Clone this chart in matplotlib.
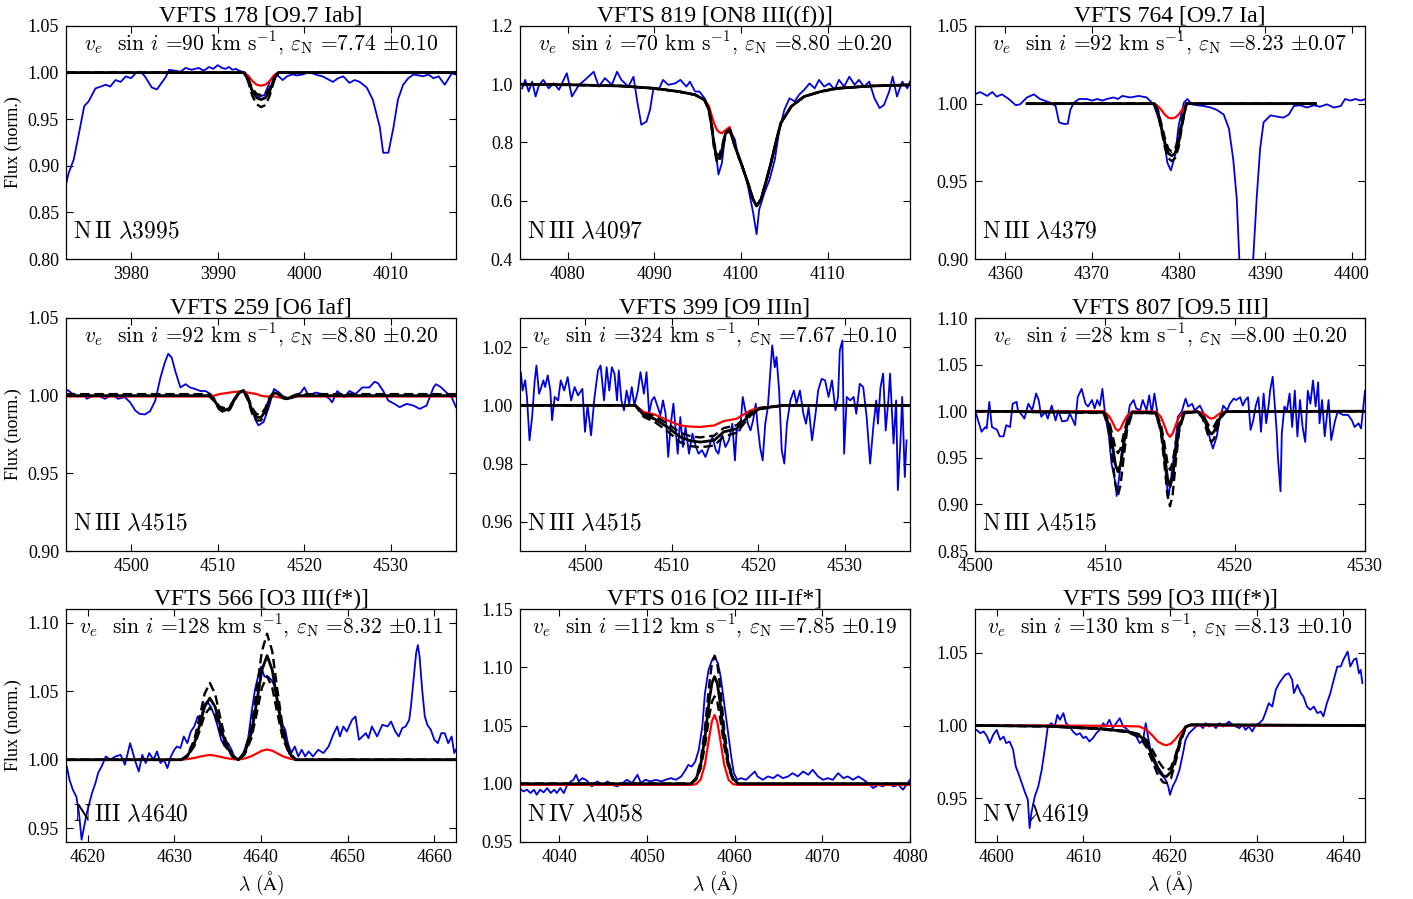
import matplotlib
matplotlib.use("Agg")
import matplotlib.pyplot as plt
from matplotlib.ticker import MultipleLocator

plt.rcParams["font.family"] = "serif"
plt.rcParams["font.serif"] = ["Liberation Serif", "DejaVu Serif"]
plt.rcParams["mathtext.fontset"] = "cm"

# ---------------- data ----------------
titles = ["VFTS 178 [O9.7 Iab]", "VFTS 819 [ON8 III((f))]", "VFTS 764 [O9.7 Ia]",
          "VFTS 259 [O6 Iaf]", "VFTS 399 [O9 IIIn]", "VFTS 807 [O9.5 III]",
          "VFTS 566 [O3 III(f*)]", "VFTS 016 [O2 III-If*]", "VFTS 599 [O3 III(f*)]"]
vsini = [90, 70, 92, 92, 324, 28, 128, 112, 130]
eps_n = ["7.74", "8.80", "8.23", "8.80", "7.67", "8.00", "8.32", "7.85", "8.13"]
eps_err = ["0.10", "0.20", "0.07", "0.20", "0.10", "0.20", "0.11", "0.19", "0.10"]
ions = ["N\\,II", "N\\,III", "N\\,III", "N\\,III", "N\\,III", "N\\,III", "N\\,III", "N\\,IV", "N\\,V"]
lines = ["3995", "4097", "4379", "4515", "4515", "4515", "4640", "4058", "4619"]

# panel 1: VFTS 178, N II 3995
obs_wl_1 = [3972.4, 3972.8, 3973.4, 3974.0, 3974.6, 3975.1, 3975.9, 3976.5, 3977.1, 3977.6, 3978.2, 3978.8,
            3979.4, 3980.0, 3980.5, 3981.1, 3981.6, 3982.4, 3983.0, 3983.6, 3984.0, 3984.4, 3985.1, 3985.7,
            3986.3, 3987.0, 3987.8, 3988.4, 3989.0, 3989.5, 3990.0, 3990.5, 3990.9, 3991.3, 3991.7, 3992.1,
            3992.5, 3993.2, 3994.0, 3994.8, 3995.4, 3996.1, 3996.7, 3997.5, 3998.0, 3998.6, 3999.2, 3999.8,
            4000.4, 4001.0, 4001.6, 4002.1, 4002.7, 4003.3, 4003.9, 4004.5, 4005.2, 4005.8, 4006.4, 4007.2,
            4007.9, 4008.7, 4009.1, 4009.7, 4010.3, 4010.8, 4011.4, 4012.0, 4012.6, 4013.2, 4013.7, 4014.3,
            4014.9, 4015.5, 4016.2, 4016.6, 4017.0, 4017.5]
obs_fl_1 = [0.876, 0.892, 0.907, 0.935, 0.964, 0.969, 0.983, 0.985, 0.987, 0.985, 0.992, 0.990,
            0.996, 0.994, 0.999, 1.001, 0.996, 0.984, 0.982, 0.990, 0.995, 1.003, 1.002, 1.001,
            1.005, 1.003, 1.005, 1.002, 1.006, 1.004, 1.008, 1.005, 1.004, 1.006, 1.003, 1.004,
            1.002, 1.000, 0.981, 0.974, 0.976, 0.992, 0.999, 0.992, 0.996, 0.998, 0.997, 0.998,
            1.000, 0.999, 0.997, 0.996, 0.993, 0.990, 0.994, 0.996, 0.989, 0.992, 0.990, 0.984,
            0.971, 0.942, 0.914, 0.914, 0.942, 0.971, 0.987, 0.994, 0.998, 0.997, 0.996, 0.998,
            0.994, 0.996, 0.987, 0.993, 0.999, 0.998]
mod_wl_1 = [3972.5, 3993.0, 3993.5, 3994.0, 3994.5, 3995.0, 3995.5, 3996.0, 3996.5, 3997.0, 4017.5]
mod_red_1 = [1.0, 1.0, 0.997, 0.991, 0.987, 0.986, 0.987, 0.991, 0.997, 1.0, 1.0]
mod_best_1 = [1.0, 1.0, 0.993, 0.980, 0.973, 0.971, 0.973, 0.980, 0.993, 1.0, 1.0]
mod_lo_1 = [1.0, 1.0, 0.991, 0.975, 0.966, 0.963, 0.965, 0.975, 0.991, 1.0, 1.0]
mod_hi_1 = [1.0, 1.0, 0.994, 0.983, 0.977, 0.976, 0.977, 0.983, 0.994, 1.0, 1.0]

# panel 2: VFTS 819, N III 4097
obs_wl_2 = [4074.75, 4075.1, 4075.5, 4075.9, 4076.3, 4076.7, 4077.2, 4077.8, 4078.4, 4079.0, 4079.9, 4080.5,
            4081.3, 4082.0, 4083.0, 4083.6, 4084.3, 4085.1, 4085.7, 4086.2, 4087.0, 4087.6, 4088.0, 4088.5,
            4089.1, 4089.5, 4089.9, 4090.5, 4091.0, 4091.6, 4092.4, 4093.0, 4093.7, 4094.1, 4094.7, 4095.2,
            4095.8, 4096.4, 4096.8, 4097.2, 4097.4, 4097.8, 4098.2, 4098.7, 4099.3, 4099.7, 4100.2, 4100.8,
            4101.4, 4101.8, 4102.1, 4102.7, 4103.3, 4103.9, 4104.4, 4105.0, 4105.6, 4106.2, 4106.7, 4107.3,
            4107.9, 4108.5, 4109.0, 4109.6, 4110.2, 4110.8, 4111.3, 4111.9, 4112.5, 4113.1, 4113.6, 4114.2,
            4114.8, 4115.4, 4116.0, 4116.5, 4117.1, 4117.5, 4118.0, 4118.6, 4119.2, 4119.5]
obs_fl_2 = [0.986, 1.015, 0.975, 1.009, 0.958, 0.998, 1.015, 0.986, 1.003, 0.981, 1.038, 0.958,
            0.998, 1.015, 1.043, 0.992, 1.021, 0.998, 1.043, 1.015, 0.992, 1.026, 0.946, 0.861,
            0.872, 0.912, 0.986, 0.981, 1.015, 0.998, 1.003, 1.015, 0.992, 1.009, 0.975, 0.975,
            0.952, 0.912, 0.810, 0.741, 0.690, 0.730, 0.832, 0.844, 0.810, 0.747, 0.718, 0.650,
            0.559, 0.485, 0.570, 0.627, 0.673, 0.741, 0.838, 0.912, 0.952, 0.941, 0.964, 0.981,
            1.003, 0.986, 1.015, 0.992, 1.003, 0.981, 1.015, 0.992, 1.026, 0.998, 1.015, 0.992,
            1.009, 0.952, 0.918, 0.929, 0.975, 1.026, 0.958, 1.009, 0.986, 1.009]
mod_wl_2 = [4074.5, 4080.5, 4086.2, 4090.0, 4092.8, 4094.7, 4095.8, 4096.3, 4096.6, 4096.9, 4097.2,
            4097.5, 4097.8, 4098.2, 4098.7, 4099.3, 4100.0, 4100.8, 4101.4, 4101.8, 4102.3, 4102.9,
            4103.5, 4104.1, 4104.6, 4105.8, 4107.3, 4109.2, 4111.1, 4115.0, 4119.5]
mod_red_2 = [1.0, 0.998, 0.994, 0.986, 0.975, 0.964, 0.946, 0.925, 0.895, 0.865, 0.845,
             0.835, 0.832, 0.842, 0.853, 0.790, 0.730, 0.661, 0.604, 0.582, 0.604, 0.667,
             0.735, 0.810, 0.867, 0.924, 0.958, 0.975, 0.986, 0.994, 0.998]
mod_best_2 = [1.0, 0.998, 0.994, 0.986, 0.975, 0.964, 0.946, 0.912, 0.860, 0.790, 0.748,
              0.745, 0.775, 0.830, 0.844, 0.787, 0.730, 0.661, 0.604, 0.582, 0.604, 0.667,
              0.735, 0.810, 0.867, 0.924, 0.958, 0.975, 0.986, 0.994, 0.998]
mod_lo_2 = [1.0, 0.998, 0.994, 0.986, 0.975, 0.964, 0.946, 0.910, 0.852, 0.780, 0.735,
            0.732, 0.765, 0.826, 0.842, 0.787, 0.730, 0.661, 0.604, 0.582, 0.604, 0.667,
            0.735, 0.810, 0.867, 0.924, 0.958, 0.975, 0.986, 0.994, 0.998]
mod_hi_2 = [1.0, 0.998, 0.994, 0.986, 0.975, 0.964, 0.946, 0.914, 0.866, 0.800, 0.760,
            0.757, 0.785, 0.834, 0.846, 0.787, 0.730, 0.661, 0.604, 0.582, 0.604, 0.667,
            0.735, 0.810, 0.867, 0.924, 0.958, 0.975, 0.986, 0.994, 0.998]

# panel 3: VFTS 764, N III 4379
obs_wl_3 = [4356.5, 4357.1, 4357.9, 4358.5, 4359.0, 4359.6, 4360.4, 4361.2, 4361.7, 4362.5, 4363.3, 4364.0,
            4365.2, 4365.8, 4366.2, 4366.7, 4367.2, 4367.5, 4367.9, 4368.5, 4369.4, 4370.0, 4370.6, 4371.2,
            4371.7, 4372.5, 4373.0, 4373.5, 4374.4, 4375.4, 4376.3, 4377.1, 4377.7, 4378.3, 4378.7, 4379.1,
            4379.6, 4380.0, 4380.6, 4381.0, 4381.5, 4382.1, 4382.9, 4383.7, 4384.4, 4385.2, 4385.8, 4386.3,
            4386.7, 4387.0, 4387.3, 4388.3, 4388.6, 4389.0, 4389.4, 4389.8, 4390.6, 4391.3, 4392.1, 4392.7,
            4393.3, 4394.0, 4394.8, 4395.6, 4396.3, 4397.1, 4397.9, 4398.7, 4399.2, 4399.8, 4400.4, 4401.0,
            4401.6]
obs_fl_3 = [1.006, 1.0075, 1.005, 1.0075, 1.0045, 1.006, 1.003, 0.999, 0.9996, 1.004, 1.006, 1.003,
            1.0006, 0.9985, 0.988, 0.987, 0.987, 0.996, 1.0006, 1.003, 1.003, 1.002, 1.003, 1.002,
            1.003, 1.004, 1.003, 1.005, 1.004, 1.005, 1.004, 0.9996, 0.990, 0.977, 0.962, 0.957,
            0.967, 0.986, 1.0006, 1.003, 0.9996, 0.999, 0.9985, 0.9975, 0.996, 0.993, 0.984, 0.964,
            0.939, 0.900, 0.850, 0.850, 0.900, 0.939, 0.971, 0.988, 0.9925, 0.9917, 0.991, 0.993,
            0.9985, 0.999, 0.9975, 0.999, 0.998, 0.9996, 0.9975, 0.9985, 1.003, 1.002, 1.003, 1.002,
            1.003]
mod_wl_3 = [4362.5, 4377.2, 4377.6, 4378.0, 4378.4, 4378.8, 4379.2, 4379.6, 4380.0, 4380.4, 4380.9, 4395.8]
mod_red_3 = [1.0, 1.0, 0.9985, 0.996, 0.993, 0.991, 0.9905, 0.991, 0.993, 0.996, 1.0, 1.0]
mod_best_3 = [1.0, 1.0, 0.995, 0.985, 0.975, 0.968, 0.9665, 0.968, 0.975, 0.988, 1.0, 1.0]
mod_lo_3 = [1.0, 1.0, 0.994, 0.983, 0.972, 0.965, 0.963, 0.965, 0.972, 0.986, 1.0, 1.0]
mod_hi_3 = [1.0, 1.0, 0.996, 0.987, 0.978, 0.971, 0.969, 0.971, 0.978, 0.990, 1.0, 1.0]

# panel 4: VFTS 259, N III 4515
obs_wl_4 = [4492.3, 4492.7, 4493.3, 4493.9, 4494.5, 4494.9, 4495.4, 4496.2, 4497.0, 4497.8, 4498.5, 4499.3,
            4499.9, 4500.5, 4501.0, 4501.6, 4502.2, 4502.8, 4503.4, 4503.9, 4504.3, 4504.7, 4505.1, 4505.7,
            4506.3, 4506.8, 4507.4, 4508.0, 4508.6, 4509.2, 4509.7, 4510.1, 4510.7, 4511.3, 4511.9, 4512.4,
            4513.0, 4513.4, 4513.8, 4514.4, 4514.7, 4515.3, 4515.9, 4516.5, 4517.1, 4517.6, 4518.2, 4519.0,
            4519.6, 4520.0, 4520.5, 4521.3, 4522.1, 4522.9, 4523.2, 4523.8, 4524.6, 4525.2, 4525.9, 4526.7,
            4527.5, 4528.1, 4528.5, 4529.1, 4529.7, 4530.4, 4531.0, 4531.8, 4532.6, 4533.3, 4534.1, 4534.9,
            4535.2, 4535.8, 4536.4, 4537.0, 4537.5]
obs_fl_4 = [1.002, 1.0036, 1.001, 0.9994, 1.001, 0.998, 0.9994, 1.0, 0.998, 1.0006, 0.998, 0.999,
            0.9957, 0.9904, 0.9883, 0.9879, 0.990, 0.9968, 1.0117, 1.0213, 1.027, 1.0245, 1.016, 1.0053,
            1.0074, 1.0053, 1.0043, 1.003, 1.003, 1.001, 0.9968, 0.9915, 0.9904, 0.9915, 0.998, 1.002,
            1.003, 1.001, 0.9926, 0.984, 0.9809, 0.983, 0.9926, 1.0043, 1.002, 0.999, 0.998, 1.0,
            1.002, 1.0053, 1.0, 1.002, 1.001, 0.998, 0.9957, 1.003, 0.999, 1.003, 1.001, 1.0053,
            1.0053, 1.009, 1.008, 1.003, 0.9968, 0.9947, 0.9926, 0.9947, 0.9936, 0.9915, 0.9936, 1.0053,
            1.0074, 1.0053, 1.002, 0.999, 0.9926]
mod_wl_4 = [4492.5, 4509.0, 4509.6, 4510.2, 4510.8, 4511.4, 4512.0, 4512.5, 4513.0, 4513.5, 4514.0,
            4514.5, 4515.0, 4515.5, 4516.0, 4516.5, 4517.0, 4517.5, 4518.0, 4518.5, 4519.2, 4537.5]
mod_red_4 = [0.9995, 0.9995, 1.0, 1.001, 1.0015, 1.002, 1.0025, 1.0025, 1.0025, 1.002, 1.0015,
             1.001, 1.0, 0.9995, 0.9995, 0.9995, 0.999, 0.9985, 0.9985, 0.999, 0.9995, 0.9995]
mod_best_4 = [1.0, 1.0, 0.997, 0.992, 0.9905, 0.992, 0.998, 1.002, 1.003, 0.998, 0.990,
              0.986, 0.986, 0.990, 0.998, 1.002, 1.001, 0.999, 0.998, 0.999, 1.0, 1.0]
mod_lo_4 = [1.0, 1.0, 0.9965, 0.991, 0.989, 0.991, 0.9975, 1.002, 1.003, 0.997, 0.988,
            0.984, 0.984, 0.988, 0.997, 1.002, 1.001, 0.9985, 0.9975, 0.9985, 1.0, 1.0]
mod_hi_4 = [1.001, 1.001, 0.998, 0.993, 0.992, 0.993, 0.9985, 1.0025, 1.0035, 0.999, 0.992,
            0.988, 0.988, 0.992, 0.999, 1.0025, 1.0015, 0.9995, 0.9985, 0.9995, 1.001, 1.001]

# panel 5: VFTS 399, N III 4515
obs_wl_5 = [4492.3, 4492.6, 4492.8, 4493.1, 4493.3, 4493.6, 4493.9, 4494.2, 4494.4, 4494.7, 4494.9, 4495.2,
            4495.4, 4495.7, 4496.0, 4496.2, 4496.5, 4496.9, 4497.2, 4497.6, 4498.0, 4498.4, 4498.8, 4499.2,
            4499.7, 4500.0, 4500.3, 4500.7, 4501.1, 4501.5, 4501.8, 4502.2, 4502.5, 4502.8, 4503.1, 4503.4,
            4503.7, 4503.9, 4504.2, 4504.5, 4504.8, 4505.1, 4505.4, 4505.7, 4506.1, 4506.4, 4506.8, 4507.1,
            4507.4, 4507.7, 4508.0, 4508.4, 4508.7, 4509.0, 4509.3, 4509.6, 4509.9, 4510.2, 4510.5, 4510.7,
            4511.0, 4511.3, 4511.6, 4512.0, 4512.4, 4512.8, 4513.1, 4513.5, 4513.9, 4514.3, 4514.7, 4515.1,
            4515.4, 4515.8, 4516.2, 4516.6, 4517.0, 4517.3, 4517.5, 4517.9, 4518.2, 4518.5, 4518.8, 4519.1,
            4519.4, 4519.7, 4519.9, 4520.2, 4520.5, 4520.8, 4521.1, 4521.4, 4521.6, 4521.9, 4522.1, 4522.4,
            4522.7, 4523.0, 4523.3, 4523.7, 4524.1, 4524.4, 4524.8, 4525.2, 4525.5, 4525.8, 4526.2, 4526.6,
            4526.9, 4527.3, 4527.7, 4528.1, 4528.5, 4528.9, 4529.2, 4529.4, 4529.7, 4529.9, 4530.2, 4530.6,
            4531.0, 4531.3, 4531.7, 4532.1, 4532.5, 4532.9, 4533.3, 4533.6, 4533.8, 4534.1, 4534.4, 4534.7,
            4535.0, 4535.2, 4535.6, 4535.9, 4536.1, 4536.4, 4536.6, 4536.9, 4537.1]
obs_fl_5 = [1.0063, 1.0114, 1.0051, 1.0086, 1.0029, 0.988, 0.996, 1.0086, 1.0137, 1.004, 1.0057, 1.0086,
            1.0063, 1.0103, 1.0051, 0.9949, 1.0029, 1.0017, 1.0086, 1.0051, 1.0097, 1.0017, 1.0063, 1.0034,
            1.0057, 0.9909, 1.0, 0.9897, 1.0029, 1.012, 1.0137, 1.0017, 1.0131, 1.0051, 1.0131, 1.0109,
            1.0017, 1.012, 1.0017, 0.9983, 1.0051, 1.0006, 1.0063, 1.0, 1.0051, 1.0114, 1.004, 1.0114,
            0.9971, 1.0017, 1.0029, 0.9994, 0.9966, 1.0017, 0.9971, 0.9823, 0.9937, 1.0006, 0.9903, 0.9834,
            0.996, 0.9857, 0.9926, 0.9834, 0.9903, 0.9857, 0.9834, 0.9846, 0.9823, 0.9857, 0.9891, 0.9846,
            0.9834, 0.9903, 0.9857, 0.988, 0.9937, 0.9811, 0.9914, 0.9914, 1.0029, 0.9983, 0.9937, 0.9914,
            0.9949, 1.0006, 0.9937, 0.9857, 0.9811, 0.9937, 0.9994, 1.012, 1.0206, 1.0131, 1.0166, 1.0051,
            0.9846, 0.980, 0.9937, 1.0017, 1.0051, 1.0006, 1.0051, 0.9971, 0.9937, 0.9994, 0.988, 0.9971,
            1.0051, 1.0091, 1.0086, 1.0029, 1.0086, 0.9983, 1.0029, 1.0189, 1.0223, 0.9834, 1.0029, 1.0017,
            1.0029, 0.9971, 1.0074, 1.0063, 0.996, 0.980, 0.9937, 1.0017, 0.9937, 1.0063, 1.0109, 0.9914,
            1.0017, 1.0109, 0.9869, 1.0017, 0.9709, 0.988, 1.0029, 0.9754, 0.988]
mod_wl_5 = [4492.5, 4505.8, 4506.8, 4508.0, 4509.5, 4511.0, 4512.2, 4513.3, 4514.9, 4516.0, 4517.5,
            4519.1, 4520.2, 4522.9, 4537.5]
mod_red_5 = [1.0, 1.0, 0.9977, 0.9969, 0.9949, 0.9931, 0.9927, 0.9926, 0.9931, 0.9946, 0.9954,
             0.9983, 0.9992, 1.0, 1.0]
mod_best_5 = [1.0, 1.0, 0.9966, 0.9954, 0.9926, 0.9891, 0.9878, 0.9874, 0.988, 0.9909, 0.992,
              0.9971, 0.9989, 1.0, 1.0]
mod_lo_5 = [1.0, 1.0, 0.996, 0.9944, 0.9912, 0.9873, 0.986, 0.9856, 0.9862, 0.9893, 0.9906,
            0.9965, 0.9987, 1.0, 1.0]
mod_hi_5 = [1.0, 1.0, 0.9972, 0.9963, 0.9938, 0.9906, 0.9894, 0.989, 0.9896, 0.9922, 0.9932,
            0.9976, 0.9991, 1.0, 1.0]

# panel 6: VFTS 807, N III 4515
obs_wl_6 = [4500.0, 4500.3, 4500.5, 4500.8, 4500.9, 4501.1, 4501.3, 4501.7, 4501.9, 4502.2, 4502.4, 4502.7,
            4502.9, 4503.2, 4503.3, 4503.6, 4503.8, 4504.1, 4504.4, 4504.7, 4504.9, 4505.1, 4505.4, 4505.6,
            4505.9, 4506.2, 4506.4, 4506.7, 4507.1, 4507.3, 4507.7, 4507.9, 4508.2, 4508.5, 4508.7, 4509.0,
            4509.2, 4509.4, 4509.6, 4509.8, 4510.0, 4510.3, 4510.5, 4510.8, 4510.9, 4511.1, 4511.3, 4511.5,
            4511.7, 4511.9, 4512.2, 4512.4, 4512.7, 4512.9, 4513.2, 4513.4, 4513.6, 4513.8, 4514.1, 4514.4,
            4514.6, 4514.8, 4514.9, 4515.1, 4515.4, 4515.6, 4515.9, 4516.2, 4516.4, 4516.7, 4516.9, 4517.3,
            4517.6, 4517.8, 4518.1, 4518.3, 4518.6, 4518.8, 4519.1, 4519.4, 4519.6, 4519.9, 4520.1, 4520.4,
            4520.6, 4520.8, 4521.0, 4521.2, 4521.4, 4521.6, 4521.8, 4522.0, 4522.2, 4522.4, 4522.6, 4522.7,
            4522.9, 4523.2, 4523.3, 4523.5, 4523.6, 4523.8, 4524.0, 4524.2, 4524.4, 4524.6, 4524.8, 4525.0,
            4525.2, 4525.4, 4525.6, 4525.8, 4526.0, 4526.2, 4526.4, 4526.5, 4526.7, 4526.9, 4527.2, 4527.4,
            4527.7, 4527.9, 4528.3, 4528.7, 4529.0, 4529.2, 4529.5, 4529.7, 4530.0]
obs_fl_6 = [1.001, 0.987, 0.978, 0.983, 0.9815, 1.010, 0.983, 0.980, 0.973, 0.973, 0.985, 0.983,
            1.008, 1.010, 1.001, 0.996, 0.992, 1.008, 1.001, 1.019, 1.012, 0.994, 0.9993, 0.992,
            1.006, 0.990, 1.001, 0.989, 0.990, 0.9975, 0.985, 1.015, 1.024, 1.008, 1.005, 1.012,
            1.003, 1.012, 1.006, 1.024, 0.9975, 0.973, 0.944, 0.923, 0.909, 0.930, 0.958, 0.973,
            0.987, 1.006, 1.012, 1.003, 1.001, 1.012, 1.001, 1.017, 0.9975, 1.019, 0.992, 0.969,
            0.944, 0.916, 0.909, 0.930, 0.962, 0.994, 0.9993, 1.0135, 1.005, 1.008, 1.001, 1.006,
            0.9975, 0.987, 0.969, 0.960, 0.973, 0.990, 1.006, 1.001, 1.008, 1.0135, 1.012, 1.015,
            1.006, 1.012, 1.015, 0.980, 0.990, 1.006, 1.015, 0.978, 1.019, 0.987, 1.008, 1.022,
            1.037, 0.980, 0.951, 0.914, 0.976, 1.005, 1.001, 1.019, 0.983, 1.022, 0.973, 1.012,
            0.983, 0.967, 1.022, 1.008, 1.033, 1.005, 1.031, 0.987, 1.012, 0.973, 1.012, 0.969,
            0.990, 0.9993, 0.996, 0.996, 0.990, 0.983, 0.987, 0.9815, 1.022]
mod_wl_6 = [4500.0,
            4509.9, 4510.3, 4510.55, 4510.8, 4511.0, 4511.2, 4511.45, 4511.7, 4512.1,
            4513.9, 4514.3, 4514.55, 4514.8, 4515.0, 4515.2, 4515.45, 4515.7, 4516.1,
            4517.1, 4517.5, 4517.75, 4518.0, 4518.2, 4518.4, 4518.65, 4518.9, 4519.3,
            4530.0]
mod_red_6 = [1.0,
             1.0, 0.995, 0.989, 0.9815, 0.979, 0.9815, 0.989, 0.995, 1.0,
             0.9995, 0.994, 0.9855, 0.976, 0.9725, 0.976, 0.9855, 0.994, 0.9995,
             0.9998, 0.9982, 0.9958, 0.993, 0.992, 0.993, 0.9958, 0.9982, 0.9998,
             1.0]
mod_best_6 = [1.0,
              0.9987, 0.9857, 0.9656, 0.9428, 0.935, 0.9428, 0.9656, 0.9857, 0.9987,
              0.998, 0.982, 0.957, 0.929, 0.919, 0.929, 0.957, 0.982, 0.998,
              0.9995, 0.9946, 0.987, 0.9784, 0.9755, 0.9784, 0.987, 0.9946, 0.9995,
              1.0]
mod_lo_6 = [1.0,
            0.998, 0.980, 0.952, 0.921, 0.910, 0.921, 0.952, 0.980, 0.998,
            0.998, 0.978, 0.946, 0.910, 0.898, 0.910, 0.946, 0.978, 0.998,
            0.9993, 0.9927, 0.9825, 0.971, 0.967, 0.971, 0.9825, 0.9927, 0.9993,
            1.0]
mod_hi_6 = [1.0,
            0.999, 0.990, 0.976, 0.960, 0.955, 0.960, 0.976, 0.990, 0.999,
            0.999, 0.986, 0.967, 0.945, 0.937, 0.945, 0.967, 0.986, 0.999,
            0.9996, 0.996, 0.9905, 0.984, 0.982, 0.984, 0.9905, 0.996, 0.9996,
            1.0]

# panel 7: VFTS 566, N III 4640
obs_wl_7 = [4617.6, 4617.9, 4618.3, 4618.7, 4619.0, 4619.3, 4619.6, 4619.9, 4620.2, 4620.5, 4620.9, 4621.2,
            4621.6, 4622.1, 4622.6, 4623.2, 4623.8, 4624.3, 4624.9, 4625.5, 4625.9, 4626.3, 4626.7, 4627.1,
            4627.6, 4628.0, 4628.4, 4628.8, 4629.2, 4629.6, 4630.0, 4630.3, 4630.7, 4631.1, 4631.5, 4631.9,
            4632.3, 4632.7, 4633.1, 4633.4, 4633.8, 4634.2, 4634.6, 4635.0, 4635.4, 4635.8, 4636.2, 4636.6,
            4636.9, 4637.3, 4637.7, 4638.1, 4638.5, 4638.9, 4639.3, 4639.7, 4640.0, 4640.4, 4640.8, 4641.2,
            4641.6, 4642.0, 4642.4, 4642.8, 4643.1, 4643.5, 4643.9, 4644.3, 4644.7, 4645.1, 4645.5, 4646.0,
            4646.6, 4647.2, 4647.8, 4648.4, 4648.8, 4649.1, 4649.5, 4649.9, 4650.5, 4650.9, 4651.3, 4651.7,
            4652.1, 4652.4, 4652.8, 4653.4, 4654.0, 4654.6, 4655.0, 4655.5, 4655.9, 4656.3, 4656.7, 4657.1,
            4657.3, 4657.6, 4657.9, 4658.1, 4658.3, 4658.6, 4658.9, 4659.2, 4659.6, 4660.0, 4660.4, 4660.8,
            4661.2, 4661.6, 4662.0, 4662.3, 4662.7]
obs_fl_7 = [0.995, 0.9854, 0.978, 0.973, 0.961, 0.9417, 0.9515, 0.961, 0.9684, 0.9757, 0.983, 0.9903,
            0.995, 1.0024, 1.0, 1.0024, 1.0036, 0.9964, 1.0121, 0.9988, 0.9915, 1.0036, 0.9976, 1.0049,
            1.0, 1.0061, 0.9976, 1.0, 0.9939, 1.0024, 1.0073, 1.0097, 1.0085, 1.017, 1.0121, 1.0206,
            1.0243, 1.0316, 1.0303, 1.040, 1.0425, 1.0388, 1.0328, 1.0243, 1.0146, 1.0097, 1.0121, 1.0073,
            1.0024, 1.0, 1.0012, 1.0073, 1.0146, 1.034, 1.051, 1.0619, 1.068, 1.0607, 1.0607, 1.0583,
            1.0534, 1.0413, 1.0267, 1.0218, 1.0121, 1.0049, 1.0097, 1.0024, 1.0073, 1.0024, 1.0061, 1.0024,
            1.0073, 1.0049, 1.0097, 1.0194, 1.0243, 1.017, 1.0243, 1.0206, 1.0291, 1.0316, 1.0146, 1.017,
            1.0194, 1.0158, 1.0243, 1.017, 1.0255, 1.0243, 1.0279, 1.0206, 1.017, 1.0231, 1.0243, 1.0291,
            1.0388, 1.0583, 1.0777, 1.0837, 1.0752, 1.051, 1.0316, 1.0255, 1.0218, 1.0146, 1.0121, 1.0194,
            1.0194, 1.0121, 1.017, 1.0049, 1.0097]
mod_wl_7 = [4617.5, 4630.8, 4631.5, 4632.3, 4632.9, 4633.5, 4634.1, 4634.7, 4635.3, 4635.9, 4636.7, 4637.4,
            4638.1, 4638.9, 4639.5, 4640.1, 4640.7, 4641.3, 4641.9, 4642.5, 4643.3, 4644.0, 4662.5]
mod_red_7 = [1.0, 1.0, 1.0005, 1.0013, 1.0022, 1.003, 1.0035, 1.003, 1.0022, 1.0013, 1.0005, 1.0002,
             1.0009, 1.0026, 1.0046, 1.0066, 1.0075, 1.0066, 1.0046, 1.0026, 1.0009, 1.0, 1.0]
mod_best_7 = [1.0, 1.0, 1.0027, 1.0117, 1.0248, 1.0387, 1.045, 1.0387, 1.0248, 1.0117, 1.0027, 1.0,
              1.0046, 1.0198, 1.0418, 1.0654, 1.076, 1.0654, 1.0418, 1.0198, 1.0046, 1.0, 1.0]
mod_lo_7 = [1.0, 1.0, 1.0023, 1.0099, 1.0209, 1.0327, 1.038, 1.0327, 1.0209, 1.0099, 1.0023, 1.0,
            1.0037, 1.0159, 1.0336, 1.0525, 1.061, 1.0525, 1.0336, 1.0159, 1.0037, 1.0, 1.0]
mod_hi_7 = [1.0, 1.0, 1.0034, 1.0146, 1.0308, 1.0482, 1.056, 1.0482, 1.0308, 1.0146, 1.0034, 1.0,
            1.0055, 1.0239, 1.0506, 1.0791, 1.092, 1.0791, 1.0506, 1.0239, 1.0055, 1.0, 1.0]

# panel 8: VFTS 016, N IV 4058
obs_wl_8 = [4035.4, 4035.9, 4036.3, 4036.7, 4037.1, 4037.4, 4037.8, 4038.2, 4038.6, 4039.0, 4039.4, 4039.7,
            4040.1, 4040.5, 4040.9, 4041.3, 4041.6, 4041.9, 4042.2, 4042.6, 4043.0, 4043.4, 4043.7, 4044.3,
            4044.9, 4045.5, 4046.0, 4046.6, 4047.2, 4047.7, 4048.3, 4048.9, 4049.3, 4049.8, 4050.4, 4051.0,
            4051.6, 4052.1, 4052.7, 4053.3, 4053.9, 4054.4, 4054.7, 4055.1, 4055.5, 4055.9, 4056.3, 4056.6,
            4057.0, 4057.4, 4057.7, 4058.1, 4058.4, 4058.8, 4059.2, 4059.6, 4059.9, 4060.3, 4060.7, 4061.3,
            4061.9, 4062.3, 4062.6, 4063.2, 4063.8, 4064.4, 4064.9, 4065.5, 4066.1, 4066.6, 4067.2, 4067.8,
            4068.4, 4068.9, 4069.5, 4070.1, 4070.6, 4071.2, 4071.8, 4072.4, 4072.9, 4073.5, 4074.1, 4074.7,
            4075.2, 4075.8, 4076.4, 4076.9, 4077.5, 4078.1, 4078.7, 4079.2, 4079.6, 4080.0]
obs_fl_8 = [0.9963, 0.9934, 0.9949, 0.992, 0.9949, 0.9906, 0.9949, 0.9926, 0.9963, 0.992, 0.9949, 0.992,
            0.9963, 0.992, 0.9991, 1.002, 1.0034, 1.0077, 1.002, 1.0048, 1.0034, 1.0006, 0.9977, 1.002,
            0.9991, 1.002, 0.9991, 0.9977, 1.0006, 1.0034, 1.0006, 1.0077, 1.0006, 1.0034, 1.002, 1.0034,
            1.002, 1.0034, 1.0048, 1.0034, 1.0063, 1.012, 1.0162, 1.0148, 1.0191, 1.0291, 1.049, 1.0775,
            1.0974, 1.106, 1.1094, 1.1031, 1.0917, 1.0689, 1.0462, 1.0234, 1.0091, 1.0034, 1.0048, 1.0034,
            1.0077, 1.0105, 1.0063, 1.0034, 1.0063, 1.0048, 1.0077, 1.0048, 1.0063, 1.0091, 1.0063, 1.0105,
            1.0077, 1.012, 1.0063, 1.0034, 1.0048, 1.0034, 1.0091, 1.0048, 1.0063, 1.0034, 1.0063, 1.0034,
            1.0006, 0.9963, 0.9991, 0.9977, 1.0006, 0.9977, 0.9991, 0.9949, 0.9991, 1.0034]
mod_wl_8 = [4035.5, 4055.0, 4055.6, 4056.1, 4056.6, 4057.1, 4057.4, 4057.7, 4058.0, 4058.3, 4058.8, 4059.3,
            4059.8, 4060.4, 4080.0]
mod_red_8 = [0.999, 0.999, 0.9997, 1.0034, 1.0164, 1.0404, 1.0536, 1.059, 1.0536, 1.0404, 1.0164, 1.0034,
             0.9997, 0.999, 0.999]
mod_best_8 = [1.0, 1.0, 1.0043, 1.0156, 1.0396, 1.0718, 1.0865, 1.092, 1.0865, 1.0718, 1.0396, 1.0156,
              1.0043, 1.0, 1.0]
mod_lo_8 = [1.0, 1.0, 1.0035, 1.0128, 1.0323, 1.0585, 1.0705, 1.075, 1.0705, 1.0585, 1.0323, 1.0128,
            1.0035, 1.0, 1.0]
mod_hi_8 = [1.0, 1.0, 1.0052, 1.0187, 1.0473, 1.0858, 1.1034, 1.110, 1.1034, 1.0858, 1.0473, 1.0187,
            1.0052, 1.0, 1.0]

# panel 9: VFTS 599, N V 4619
obs_wl_9 = [4597.3, 4597.7, 4598.1, 4598.5, 4598.9, 4599.2, 4599.6, 4600.0, 4600.4, 4600.8, 4601.1, 4601.5,
            4601.9, 4602.2, 4602.5, 4602.9, 4603.3, 4603.6, 4603.8, 4604.0, 4604.4, 4604.8, 4605.2, 4605.6,
            4605.9, 4606.3, 4606.7, 4607.0, 4607.3, 4607.7, 4608.0, 4608.4, 4608.8, 4609.2, 4609.6, 4610.0,
            4610.3, 4610.7, 4611.1, 4611.5, 4611.9, 4612.3, 4612.6, 4613.0, 4613.4, 4613.8, 4614.2, 4614.6,
            4614.9, 4615.3, 4615.7, 4616.1, 4616.5, 4616.9, 4617.2, 4617.6, 4618.0, 4618.4, 4618.8, 4619.2,
            4619.5, 4619.8, 4620.0, 4620.3, 4620.7, 4621.1, 4621.5, 4621.8, 4622.2, 4622.6, 4623.0, 4623.4,
            4623.8, 4624.1, 4624.5, 4624.9, 4625.3, 4625.7, 4626.1, 4626.4, 4626.8, 4627.2, 4627.6, 4628.0,
            4628.4, 4628.7, 4629.1, 4629.5, 4629.9, 4630.3, 4630.7, 4631.0, 4631.4, 4631.8, 4632.2, 4632.6,
            4633.0, 4633.3, 4633.7, 4634.1, 4634.3, 4634.7, 4635.1, 4635.4, 4635.8, 4636.2, 4636.6, 4637.0,
            4637.4, 4637.7, 4638.1, 4638.5, 4638.9, 4639.3, 4639.7, 4640.0, 4640.5, 4640.8, 4641.2, 4641.5,
            4641.8, 4642.0, 4642.2]
obs_fl_9 = [0.9959, 0.997, 0.9947, 0.9959, 0.9924, 0.9879, 0.9936, 0.997, 0.9902, 0.9924, 0.9879, 0.989,
            0.9833, 0.9719, 0.9673, 0.9604, 0.9535, 0.949, 0.9295, 0.9398, 0.9513, 0.9581, 0.9696, 0.9856,
            0.9993, 1.0016, 0.9993, 1.0073, 1.0039, 1.0085, 1.0016, 0.9993, 0.9959, 0.9936, 0.9947, 0.9913,
            0.9924, 0.989, 0.9913, 0.9947, 0.997, 1.0016, 0.9993, 1.0039, 0.9982, 1.0016, 1.005, 0.9993,
            0.9982, 0.9959, 0.9947, 0.9924, 0.9879, 0.9902, 1.0016, 0.9879, 0.9764, 0.9719, 0.9673, 0.965,
            0.9627, 0.9581, 0.9524, 0.9581, 0.9627, 0.9696, 0.981, 0.9902, 0.9947, 0.997, 0.9993, 1.0005,
            0.9982, 1.0016, 0.9993, 1.0005, 0.9982, 1.0016, 0.9993, 1.0005, 1.0027, 1.0005, 0.9993, 0.9982,
            1.0005, 0.997, 0.9993, 0.9959, 1.0005, 1.0016, 1.0039, 1.0085, 1.0153, 1.013, 1.0245, 1.0291,
            1.0325, 1.0348, 1.0359, 1.0314, 1.0222, 1.0279, 1.0222, 1.0199, 1.013, 1.0108, 1.013, 1.0085,
            1.0096, 1.0062, 1.0153, 1.0222, 1.0314, 1.0405, 1.0405, 1.0451, 1.0508, 1.0405, 1.0451, 1.0462,
            1.0359, 1.0382, 1.0291]
mod_wl_9 = [4597.5, 4606.0, 4612.0, 4615.0, 4616.5, 4617.3, 4618.0, 4618.6, 4619.2, 4619.6, 4620.1,
            4620.6, 4621.2, 4621.8, 4622.4, 4642.5]
mod_red_9 = [1.0, 1.0, 0.9998, 0.9996, 0.9993, 0.997, 0.993, 0.989, 0.987, 0.9865, 0.9875,
             0.9905, 0.995, 0.999, 1.0, 1.0]
mod_best_9 = [1.0, 0.9995, 0.9977, 0.9959, 0.993, 0.988, 0.979, 0.971, 0.9655, 0.965, 0.968,
              0.977, 0.990, 0.999, 1.0005, 1.0]
mod_lo_9 = [1.0, 0.9994, 0.9975, 0.9955, 0.992, 0.985, 0.975, 0.966, 0.961, 0.9605, 0.9635,
            0.974, 0.988, 0.9985, 1.0005, 1.0]
mod_hi_9 = [1.0, 0.9995, 0.998, 0.9962, 0.994, 0.990, 0.983, 0.976, 0.971, 0.969, 0.971,
            0.979, 0.991, 0.9993, 1.0005, 1.0]

obs_wl = [obs_wl_1, obs_wl_2, obs_wl_3, obs_wl_4, obs_wl_5, obs_wl_6, obs_wl_7, obs_wl_8, obs_wl_9]
obs_fl = [obs_fl_1, obs_fl_2, obs_fl_3, obs_fl_4, obs_fl_5, obs_fl_6, obs_fl_7, obs_fl_8, obs_fl_9]
mod_wl = [mod_wl_1, mod_wl_2, mod_wl_3, mod_wl_4, mod_wl_5, mod_wl_6, mod_wl_7, mod_wl_8, mod_wl_9]
mod_red = [mod_red_1, mod_red_2, mod_red_3, mod_red_4, mod_red_5, mod_red_6, mod_red_7, mod_red_8, mod_red_9]
mod_best = [mod_best_1, mod_best_2, mod_best_3, mod_best_4, mod_best_5, mod_best_6, mod_best_7, mod_best_8, mod_best_9]
mod_lo = [mod_lo_1, mod_lo_2, mod_lo_3, mod_lo_4, mod_lo_5, mod_lo_6, mod_lo_7, mod_lo_8, mod_lo_9]
mod_hi = [mod_hi_1, mod_hi_2, mod_hi_3, mod_hi_4, mod_hi_5, mod_hi_6, mod_hi_7, mod_hi_8, mod_hi_9]

# ---------------- layout ----------------
xlims = [(3972.5, 4017.5), (4074.5, 4119.5), (4356.5, 4401.5),
         (4492.5, 4537.5), (4492.5, 4537.5), (4500, 4530),
         (4617.5, 4662.5), (4035.5, 4080), (4597.5, 4642.5)]
ylims = [(0.80, 1.05), (0.4, 1.2), (0.90, 1.05),
         (0.90, 1.05), (0.95, 1.03), (0.85, 1.10),
         (0.94, 1.11), (0.95, 1.15), (0.92, 1.08)]
yticks = [[0.80, 0.85, 0.90, 0.95, 1.00, 1.05], [0.4, 0.6, 0.8, 1.0, 1.2], [0.90, 0.95, 1.00, 1.05],
          [0.90, 0.95, 1.00, 1.05], [0.96, 0.98, 1.00, 1.02], [0.85, 0.90, 0.95, 1.00, 1.05, 1.10],
          [0.95, 1.00, 1.05, 1.10], [0.95, 1.00, 1.05, 1.10, 1.15], [0.95, 1.00, 1.05]]
yfmt = ["%.2f", "%.1f", "%.2f", "%.2f", "%.2f", "%.2f", "%.2f", "%.2f", "%.2f"]

W, H = 1413, 899
fig = plt.figure(figsize=(W / 100, H / 100), dpi=100)
col_left = [66, 520, 975]
row_top = [26, 318, 609]
ax_w, ax_h = 390, 233

for i in range(9):
    r, c = divmod(i, 3)
    ax = fig.add_axes([col_left[c] / W, 1 - (row_top[r] + ax_h) / H, ax_w / W, ax_h / H])
    ax.plot(obs_wl[i], obs_fl[i], color="#0000dd", lw=1.3, zorder=2)
    ax.plot(mod_wl[i], mod_red[i], color="red", lw=1.6, zorder=3)
    ax.plot(mod_wl[i], mod_lo[i], color="black", lw=1.7, ls=(0, (4, 2)), zorder=4)
    ax.plot(mod_wl[i], mod_hi[i], color="black", lw=1.7, ls=(0, (4, 2)), zorder=4)
    ax.plot(mod_wl[i], mod_best[i], color="black", lw=2.0, zorder=5)
    ax.set_xlim(*xlims[i])
    ax.set_ylim(*ylims[i])
    ax.xaxis.set_major_locator(MultipleLocator(10))
    ax.set_yticks(yticks[i])
    ax.set_yticklabels([yfmt[i] % v for v in yticks[i]])
    ax.tick_params(direction="in", top=True, right=True, length=5, width=0.8,
                   labelsize=13, pad=5)
    for sp in ax.spines.values():
        sp.set_linewidth(0.9)
    ax.set_title(titles[i], fontsize=17, pad=3)
    ax.text(0.5, 0.895,
            r"$v_e$  sin $i$ =%d km s$^{-1}$, $\varepsilon_\mathrm{N}$ =%s $\pm$%s"
            % (vsini[i], eps_n[i], eps_err[i]),
            transform=ax.transAxes, ha="center", va="baseline", fontsize=15.5,
            family="cmr10")
    ax.text(0.018, 0.09, r"$\mathrm{%s}\ \lambda%s$" % (ions[i], lines[i]),
            transform=ax.transAxes, ha="left", va="baseline", fontsize=17)
    if c == 0:
        ax.set_ylabel("Flux (norm.)", fontsize=13, labelpad=4)
    if r == 2:
        ax.set_xlabel(r"$\lambda\ (\mathrm{\AA})$", fontsize=14, labelpad=3)

fig.savefig("out.png", dpi=100)
